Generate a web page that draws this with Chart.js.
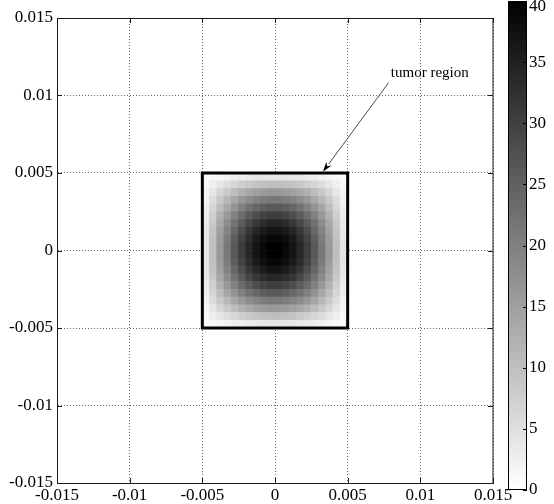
<!DOCTYPE html>
<html><head><meta charset="utf-8">
<script src="https://cdn.jsdelivr.net/npm/chart.js@4.4.0/dist/chart.umd.min.js"></script>
<style>
html,body{margin:0;padding:0;background:#fff;}
#wrap{position:relative;width:554px;height:504px;overflow:hidden;}
#main{position:absolute;left:0;top:0;}
#cbar{position:absolute;left:500px;top:0;}
</style></head><body>
<div id="wrap"><canvas id="main" width="554" height="504"></canvas><canvas id="cbar" width="54" height="504"></canvas></div>
<script>
// ---- data ----
const axisTicks = [-0.015, -0.01, -0.005, 0, 0.005, 0.01, 0.015];
const axisTickLabels = ['-0.015', '-0.01', '-0.005', '0', '0.005', '0.01', '0.015'];

// cell centres (x left->right, y top->bottom)
const cellX = [-0.00475,-0.00425,-0.00375,-0.00325,-0.00275,-0.00225,-0.00175,-0.00125,-0.00075,-0.00025,
                0.00025, 0.00075, 0.00125, 0.00175, 0.00225, 0.00275, 0.00325, 0.00375, 0.00425, 0.00475];
const cellY = [ 0.00475, 0.00425, 0.00375, 0.00325, 0.00275, 0.00225, 0.00175, 0.00125, 0.00075, 0.00025,
               -0.00025,-0.00075,-0.00125,-0.00175,-0.00225,-0.00275,-0.00325,-0.00375,-0.00425,-0.00475];
// temperature-like field (rows top->bottom)
const heat = [
 [0.4,1.0,1.6,2.1,2.6,3.0,3.4,3.7,3.9,4.0,4.0,3.9,3.7,3.4,3.0,2.6,2.1,1.6,1.0,0.4],
 [1.0,2.5,4.0,5.3,6.5,7.6,8.5,9.2,9.7,10.0,10.0,9.7,9.2,8.5,7.6,6.5,5.3,4.0,2.5,1.0],
 [1.6,4.0,6.4,8.5,10.4,12.2,13.6,14.7,15.5,16.0,16.0,15.5,14.7,13.6,12.2,10.4,8.5,6.4,4.0,1.6],
 [2.1,5.3,8.5,11.2,13.8,16.1,18.0,19.5,20.6,21.2,21.2,20.6,19.5,18.0,16.1,13.8,11.2,8.5,5.3,2.1],
 [2.6,6.5,10.4,13.8,16.9,19.8,22.1,23.9,25.2,26.0,26.0,25.2,23.9,22.1,19.8,16.9,13.8,10.4,6.5,2.6],
 [3.0,7.6,12.2,16.1,19.8,23.1,25.8,28.0,29.5,30.4,30.4,29.5,28.0,25.8,23.1,19.8,16.1,12.2,7.6,3.0],
 [3.4,8.5,13.6,18.0,22.1,25.8,28.9,31.3,33.0,34.0,34.0,33.0,31.3,28.9,25.8,22.1,18.0,13.6,8.5,3.4],
 [3.7,9.2,14.7,19.5,23.9,28.0,31.3,33.9,35.7,36.8,36.8,35.7,33.9,31.3,28.0,23.9,19.5,14.7,9.2,3.7],
 [3.9,9.7,15.5,20.6,25.2,29.5,33.0,35.7,37.6,38.8,38.8,37.6,35.7,33.0,29.5,25.2,20.6,15.5,9.7,3.9],
 [4.0,10.0,16.0,21.2,26.0,30.4,34.0,36.8,38.8,40.0,40.0,38.8,36.8,34.0,30.4,26.0,21.2,16.0,10.0,4.0],
 [4.0,10.0,16.0,21.2,26.0,30.4,34.0,36.8,38.8,40.0,40.0,38.8,36.8,34.0,30.4,26.0,21.2,16.0,10.0,4.0],
 [3.9,9.7,15.5,20.6,25.2,29.5,33.0,35.7,37.6,38.8,38.8,37.6,35.7,33.0,29.5,25.2,20.6,15.5,9.7,3.9],
 [3.7,9.2,14.7,19.5,23.9,28.0,31.3,33.9,35.7,36.8,36.8,35.7,33.9,31.3,28.0,23.9,19.5,14.7,9.2,3.7],
 [3.4,8.5,13.6,18.0,22.1,25.8,28.9,31.3,33.0,34.0,34.0,33.0,31.3,28.9,25.8,22.1,18.0,13.6,8.5,3.4],
 [3.0,7.6,12.2,16.1,19.8,23.1,25.8,28.0,29.5,30.4,30.4,29.5,28.0,25.8,23.1,19.8,16.1,12.2,7.6,3.0],
 [2.6,6.5,10.4,13.8,16.9,19.8,22.1,23.9,25.2,26.0,26.0,25.2,23.9,22.1,19.8,16.9,13.8,10.4,6.5,2.6],
 [2.1,5.3,8.5,11.2,13.8,16.1,18.0,19.5,20.6,21.2,21.2,20.6,19.5,18.0,16.1,13.8,11.2,8.5,5.3,2.1],
 [1.6,4.0,6.4,8.5,10.4,12.2,13.6,14.7,15.5,16.0,16.0,15.5,14.7,13.6,12.2,10.4,8.5,6.4,4.0,1.6],
 [1.0,2.5,4.0,5.3,6.5,7.6,8.5,9.2,9.7,10.0,10.0,9.7,9.2,8.5,7.6,6.5,5.3,4.0,2.5,1.0],
 [0.4,1.0,1.6,2.1,2.6,3.0,3.4,3.7,3.9,4.0,4.0,3.9,3.7,3.4,3.0,2.6,2.1,1.6,1.0,0.4]
];

// tumor region outline
const boxX = [-0.005, -0.005, 0.005, 0.005, -0.005];
const boxY = [-0.005, 0.005, 0.005, -0.005, -0.005];

// colorbar
const colorMin = 0, colorMax = 40;
const colorTicks = [0, 5, 10, 15, 20, 25, 30, 35, 40];
const colorTickLabels = ['0', '5', '10', '15', '20', '25', '30', '35', '40'];
const colorLevels = 64;

// annotation
const annotationText = 'tumor region';
const annotationPos = [0.01065, 0.01119];
const arrowFrom = [0.00782, 0.01083];
const arrowTo = [0.00330, 0.00508];

// ---- helpers ----
const FONT = '"Liberation Serif", "Times New Roman", serif';
function grayOf(v) {
  const t = Math.min(colorMax, Math.max(colorMin, v));
  const g = Math.round(255 * (1 - (t - colorMin) / (colorMax - colorMin)));
  return `rgb(${g},${g},${g})`;
}

const heatPoints = [];
heat.forEach((row, r) => row.forEach((v, c) => heatPoints.push({x: cellX[c], y: cellY[r], v})));
const cellStepX = Math.abs(cellX[1] - cellX[0]);
const cellStepY = Math.abs(cellY[1] - cellY[0]);

function cellRadius(ctx) {
  const ch = ctx.chart;
  if (!ch.scales || !ch.scales.x) return 4;
  const w = Math.abs(ch.scales.x.getPixelForValue(cellStepX) - ch.scales.x.getPixelForValue(0));
  const h = Math.abs(ch.scales.y.getPixelForValue(cellStepY) - ch.scales.y.getPixelForValue(0));
  return (Math.max(w, h) + 0.6) / Math.SQRT2;
}

const framePlugin = {
  id: 'frame',
  afterDraw(chart) {
    const {ctx, chartArea: a, scales: {x, y}} = chart;
    ctx.save();
    ctx.strokeStyle = '#1a1a1a';
    ctx.lineWidth = 1;
    ctx.strokeRect(Math.round(a.left) + 0.5, Math.round(a.top) + 0.5,
                   Math.round(a.right - a.left) - 1 + 0.5, Math.round(a.bottom - a.top));
    const tl = 5;
    ctx.beginPath();
    axisTicks.forEach(v => {
      const px = Math.round(x.getPixelForValue(v)) + 0.5;
      ctx.moveTo(px, a.bottom); ctx.lineTo(px, a.bottom - tl);
      ctx.moveTo(px, a.top); ctx.lineTo(px, a.top + tl);
      const py = Math.round(y.getPixelForValue(v)) + 0.5;
      ctx.moveTo(a.left, py); ctx.lineTo(a.left + tl, py);
      ctx.moveTo(a.right, py); ctx.lineTo(a.right - tl, py);
    });
    ctx.stroke();

    // annotation arrow
    const x0 = x.getPixelForValue(arrowFrom[0]), y0 = y.getPixelForValue(arrowFrom[1]);
    const x1 = x.getPixelForValue(arrowTo[0]), y1 = y.getPixelForValue(arrowTo[1]);
    const ang = Math.atan2(y1 - y0, x1 - x0);
    const hl = 10, hw = 3.2;
    const bx = x1 - hl * Math.cos(ang), by = y1 - hl * Math.sin(ang);
    ctx.strokeStyle = '#333';
    ctx.lineWidth = 0.9;
    ctx.beginPath(); ctx.moveTo(x0, y0); ctx.lineTo(bx, by); ctx.stroke();
    ctx.fillStyle = '#000';
    ctx.beginPath();
    ctx.moveTo(x1, y1);
    ctx.lineTo(bx - hw * Math.sin(ang), by + hw * Math.cos(ang));
    ctx.lineTo(x1 - 0.7 * hl * Math.cos(ang), y1 - 0.7 * hl * Math.sin(ang));
    ctx.lineTo(bx + hw * Math.sin(ang), by - hw * Math.cos(ang));
    ctx.closePath(); ctx.fill();

    ctx.fillStyle = '#000';
    ctx.font = '15px ' + FONT;
    ctx.textAlign = 'center';
    ctx.textBaseline = 'alphabetic';
    ctx.fillText(annotationText, x.getPixelForValue(annotationPos[0]), y.getPixelForValue(annotationPos[1]));
    ctx.restore();
  }
};

function axisOpts(pos) {
  return {
    type: 'linear', position: pos, min: axisTicks[0], max: axisTicks[axisTicks.length - 1], z: 1,
    afterBuildTicks: s => { s.ticks = axisTicks.map(v => ({value: v})); },
    ticks: {
      callback: (v, i) => axisTickLabels[i],
      font: {family: FONT, size: 17}, color: '#000',
      padding: pos === 'left' ? 4 : 2, maxRotation: 0, autoSkip: false
    },
    grid: {color: '#6a6a6a', lineWidth: 1, drawTicks: false, tickLength: 0},
    border: {display: true, color: '#1a1a1a', width: 1, dash: [1, 2]},
    afterFit: s => { if (pos === 'left') s.width = 57; else s.height = 21; }
  };
}

new Chart(document.getElementById('main'), {
  type: 'scatter',
  data: {
    datasets: [
      {
        label: 'tumor region', type: 'line', order: 0,
        data: boxX.map((v, i) => ({x: v, y: boxY[i]})),
        borderColor: '#000', borderWidth: 3, pointRadius: 0, fill: false,
        borderJoinStyle: 'miter', borderCapStyle: 'square', showLine: true, tension: 0
      },
      {
        label: 'field', order: 1, data: heatPoints,
        pointStyle: 'rect', pointRadius: cellRadius, pointHoverRadius: cellRadius,
        borderWidth: 0, hoverBorderWidth: 0,
        backgroundColor: c => grayOf(c.raw ? c.raw.v : 0),
        hoverBackgroundColor: c => grayOf(c.raw ? c.raw.v : 0)
      }
    ]
  },
  options: {
    responsive: false, animation: false, devicePixelRatio: 1,
    layout: {padding: {top: 18, right: 61, left: 0, bottom: 0}},
    plugins: {legend: {display: false}, tooltip: {enabled: false}},
    events: [],
    scales: {x: axisOpts('bottom'), y: axisOpts('left')}
  },
  plugins: [framePlugin]
});

// ---- colorbar ----
const barSegments = [];
for (let k = 0; k < colorLevels; k++) {
  const lvl = colorMin + (k + 0.5) * (colorMax - colorMin) / colorLevels;
  barSegments.push({
    data: [(colorMax - colorMin) / colorLevels], backgroundColor: grayOf(lvl),
    borderWidth: 0, barPercentage: 1, categoryPercentage: 1, stack: 's', inflateAmount: 0.6
  });
}
const cbarPlugin = {
  id: 'cbarFrame',
  afterDraw(chart) {
    const {ctx, chartArea: a, scales: {y}} = chart;
    ctx.save();
    ctx.strokeStyle = '#000'; ctx.lineWidth = 1;
    ctx.strokeRect(Math.round(a.left) + 0.5, Math.round(a.top) + 0.5,
                   Math.round(a.right - a.left) - 1, Math.round(a.bottom - a.top) - 1);
    ctx.beginPath();
    colorTicks.forEach(v => {
      const py = Math.round(y.getPixelForValue(v)) + 0.5;
      ctx.moveTo(a.right, py); ctx.lineTo(a.right - 4, py);
    });
    ctx.stroke();
    ctx.fillStyle = '#000';
    ctx.font = '17px ' + FONT;
    ctx.textAlign = 'left'; ctx.textBaseline = 'middle';
    colorTicks.forEach((v, i) => {
      let py = y.getPixelForValue(v);
      py = Math.max(7, Math.min(chart.height - 8, py));
      ctx.fillText(colorTickLabels[i], a.right + 2, py);
    });
    ctx.restore();
  }
};
new Chart(document.getElementById('cbar'), {
  type: 'bar',
  data: {labels: [''], datasets: barSegments},
  options: {
    responsive: false, animation: false, devicePixelRatio: 1, events: [],
    layout: {padding: {left: 8, right: 27, top: 1, bottom: 14}},
    plugins: {legend: {display: false}, tooltip: {enabled: false}},
    scales: {
      x: {display: false, stacked: true},
      y: {display: false, stacked: true, min: colorMin, max: colorMax}
    }
  },
  plugins: [cbarPlugin]
});
</script>
</body></html>
